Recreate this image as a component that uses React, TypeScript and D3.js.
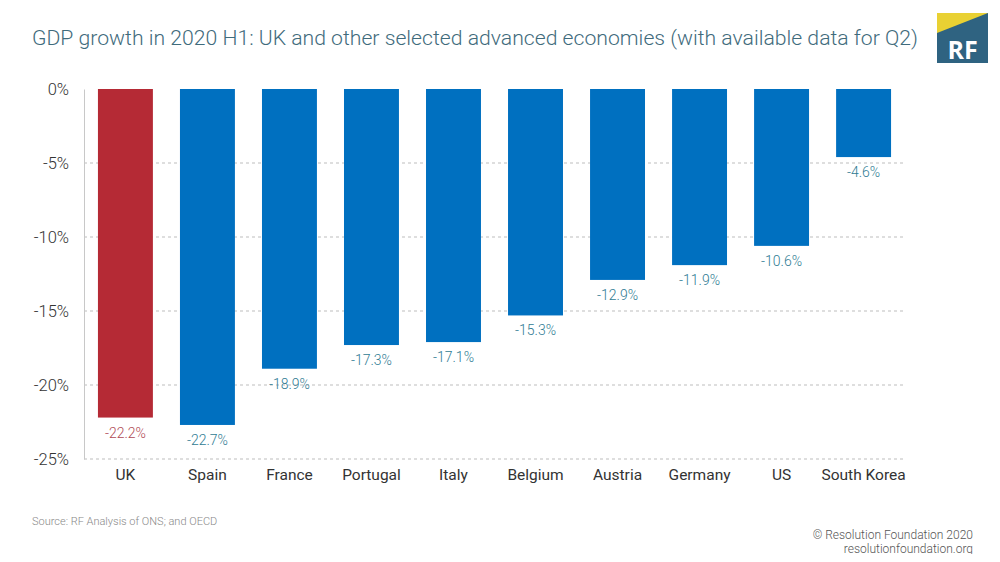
import React, { useEffect, useRef } from "react";
import * as d3 from "d3";

const countries = ["UK", "Spain", "France", "Portugal", "Italy", "Belgium", "Austria", "Germany", "US", "South Korea"];
const growth = [-22.2, -22.7, -18.9, -17.3, -17.1, -15.3, -12.9, -11.9, -10.6, -4.6];
const yTicks = [0, -5, -10, -15, -20, -25];

const App = () => {
  const svgRef = useRef<SVGSVGElement>(null);

  useEffect(() => {
    const w = 1000;
    const h = 562;
    const svg = d3.select(svgRef.current).attr("width", w).attr("height", h);
    svg.selectAll("*").remove();

    const font = "Roboto, 'Open Sans', sans-serif";
    const left = 84, right = 905, top = 89, bottom = 459;

    const x = d3.scaleBand().domain(countries).range([left, right]).paddingInner(0.33).paddingOuter(0.17);
    const y = d3.scaleLinear().domain([0, -25]).range([top, bottom]);

    // title
    svg.append("text")
      .attr("x", 32).attr("y", 45)
      .attr("font-family", font).attr("font-size", 21).attr("font-weight", 300)
      .attr("textLength", 886).attr("lengthAdjust", "spacingAndGlyphs")
      .attr("fill", "#3f6b7c")
      .text("GDP growth in 2020 H1: UK and other selected advanced economies (with available data for Q2)");

    // logo
    const logo = svg.append("g").attr("transform", "translate(937,13)");
    logo.append("rect").attr("width", 51).attr("height", 50).attr("fill", "#2f6381");
    logo.append("path").attr("d", "M0,0 H51 L0,20 Z").attr("fill", "#e9d133");
    logo.append("text").attr("x", 25.5).attr("y", 46).attr("text-anchor", "middle")
      .attr("font-family", "'Open Sans', Roboto, sans-serif").attr("font-weight", 700)
      .attr("font-size", 25).attr("fill", "#fff").text("RF");

    // gridlines
    svg.append("g").selectAll("line").data(yTicks.filter(t => t !== 0)).join("line")
      .attr("x1", left).attr("x2", right)
      .attr("y1", d => y(d)).attr("y2", d => y(d))
      .attr("stroke", "#bdbdbd").attr("stroke-width", 1).attr("stroke-dasharray", "3,3");

    // y axis
    const yAxis = d3.axisLeft(y).tickValues(yTicks).tickSize(0).tickPadding(15).tickFormat(d => `${d}%`);
    const gy = svg.append("g").attr("transform", `translate(${left},0)`).call(yAxis);
    gy.select(".domain").attr("stroke", "#c8c8c8");
    gy.selectAll("text").attr("font-family", font).attr("font-size", 16.5).attr("fill", "#333").attr("font-weight", 300);

    // bars
    svg.append("g").selectAll("rect").data(countries).join("rect")
      .attr("x", d => x(d)!)
      .attr("y", y(0))
      .attr("width", x.bandwidth())
      .attr("height", (d, i) => y(growth[i]) - y(0))
      .attr("fill", (d, i) => (i === 0 ? "#b52a35" : "#0070c0"));

    // value labels
    svg.append("g").selectAll("text").data(countries).join("text")
      .attr("x", d => x(d)! + x.bandwidth() / 2)
      .attr("y", (d, i) => y(growth[i]) + 20)
      .attr("text-anchor", "middle")
      .attr("font-family", font).attr("font-size", 14).attr("font-weight", 300)
      .attr("fill", (d, i) => (i === 0 ? "#b04a55" : "#2f7b93"))
      .text((d, i) => `${growth[i].toFixed(1)}%`);

    // x axis labels
    const xAxis = d3.axisBottom(x).tickSize(0).tickPadding(10);
    const gx = svg.append("g").attr("transform", `translate(0,${bottom})`).call(xAxis);
    gx.select(".domain").remove();
    gx.selectAll("text").attr("font-family", font).attr("font-size", 15.5).attr("fill", "#333");

    // footer
    svg.append("text").attr("x", 32).attr("y", 525)
      .attr("font-family", font).attr("font-size", 11).attr("fill", "#888").attr("font-weight", 300)
      .text("Source: RF Analysis of ONS; and OECD");
    svg.append("text").attr("x", 973).attr("y", 539).attr("text-anchor", "end")
      .attr("font-family", font).attr("font-size", 12).attr("fill", "#555").attr("font-weight", 300)
      .text("© Resolution Foundation 2020");
    svg.append("text").attr("x", 973).attr("y", 553).attr("text-anchor", "end")
      .attr("font-family", font).attr("font-size", 12).attr("fill", "#555").attr("font-weight", 300)
      .text("resolutionfoundation.org");
  }, []);

  return (
    <div style={{ margin: -8 }}>
      <svg ref={svgRef} style={{ display: "block" }}></svg>
    </div>
  );
};

export default App;
